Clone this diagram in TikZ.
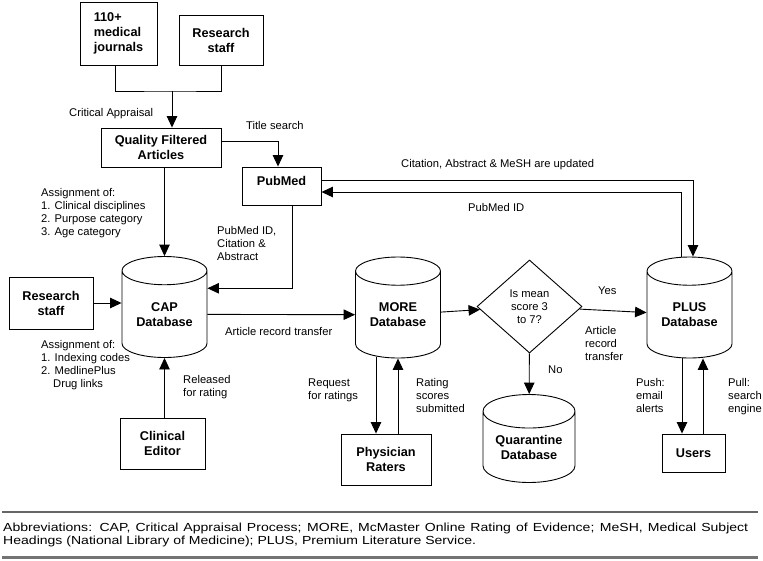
\documentclass[tikz,border=0pt]{standalone}
\usepackage{fontspec}
\setmainfont{Liberation Sans}
\newfontfamily\footfont[FakeStretch=1.2]{Liberation Sans}
\usetikzlibrary{arrows.meta,shapes.geometric}
\tikzset{
    box/.style={rectangle,draw,line width=0.9pt,align=center,inner sep=0pt,font=\fontsize{12.7}{15}\selectfont\bfseries},
    db/.style={cylinder,shape border rotate=90,draw,line width=0.9pt,aspect=0.5,minimum width=85pt,minimum height=101pt,inner sep=0pt,anchor=shape center,align=center,font=\fontsize{12.7}{15}\selectfont\bfseries},
    decision/.style={diamond,draw,line width=0.9pt,minimum width=105pt,minimum height=93pt,inner sep=0pt,align=center,font=\fontsize{11.2}{13.3}\selectfont},
    note/.style={anchor=base west,inner sep=0pt,align=left,font=\fontsize{11.2}{13}\selectfont},
    pre/.style={-{Triangle[length=11.5pt,width=10.5pt]},line width=0.9pt},
    post/.style={{Triangle[length=11.5pt,width=10.5pt]}-,line width=0.9pt}
}

\begin{document}
\begin{tikzpicture}[x=1pt,y=-1pt]
\useasboundingbox (0,0) rectangle (763,560);

% sources and filtering
\node[box,align=left,minimum width=77pt,minimum height=63pt] (journals)   at (118.5,33.5) {110+\\medical\\journals};
\node[box,minimum width=84pt,minimum height=50pt]            (staff top)  at (221,40)     {Research\\staff};
\node[box,minimum width=120pt,minimum height=39pt]           (filtered)   at (161,147.5)  {Quality Filtered\\Articles};
\node[box,minimum width=79pt,text height=18pt,text depth=20pt] (pubmed)   at (281.5,186)  {PubMed};

% databases
\node[db]                                        (cap)        at (164.5,307)   {CAP\\Database};
\node[db]                                        (more)       at (398,307.5)   {MORE\\Database}
    edge[post] (cap);
\node[decision]                                  (check)      at (529.5,306.5) {Is mean\\score 3\\to 7?}
    edge[post] (more);
\node[db]                                        (plus)       at (689.5,307.5) {PLUS\\Database}
    edge[post] (check);
\node[db,minimum width=92pt,minimum height=88pt] (quarantine) at (529,438.5)   {Quarantine\\Database}
    edge[post] (check);

% people
\node[box,minimum width=84pt,minimum height=52pt] (staff left) at (51,303)     {Research\\staff};
\node[box,minimum width=85pt,minimum height=51pt] (editor)     at (162.5,443.5) {Clinical\\Editor};
\node[box,minimum width=90pt,minimum height=51pt] (raters)     at (386,459.5)   {Physician\\Raters};
\node[box,minimum width=63pt,minimum height=38pt] (users)      at (693.5,453)   {Users};

% connectors
\coordinate (join) at (172,91);
\draw[line width=0.9pt] ([xshift=-3.5pt]journals.south) |- (join) -| (staff top.south);
\draw[pre] (join) -- (join |- filtered.north);
\draw[pre] ([yshift=6pt]filtered.east) -| ([xshift=-3.5pt]pubmed.north);
\draw[pre] (cap.north |- filtered.south) -- (cap.north);
\draw[pre] ([xshift=10.5pt]pubmed.south) |- ([yshift=26pt]cap.east);
\draw[pre] ([yshift=6pt]pubmed.east) -| ([xshift=3.5pt]plus.north);
\draw[pre] ([xshift=-8.5pt]plus.north) |- ([yshift=-6pt]pubmed.east);
\draw[pre] (staff left) -- (staff left -| cap.west);
\draw[pre] (cap.south |- editor.north) -- (cap.south);
\draw[pre] ([xshift=-22pt,yshift=1.5pt]more.south) -- ([xshift=-22pt]more.south |- raters.north);
\draw[pre] (more.south |- raters.north) -- (more.south);
\draw[pre] ([xshift=-7.5pt,yshift=0.5pt]plus.south) -- ([xshift=-7.5pt]plus.south |- users.north);
\draw[pre] ([xshift=9.5pt]users.north) -- ([xshift=9.5pt]users.north |- plus.south);

% labels (placed at the baseline of their last line)
\node[note] (appraisal)      at (69,116)  {Critical Appraisal};
\node[note] (title search)   at (246,129) {Title search};
\node[note] (assign top)     at (41,235)  {Assignment of:\\1. Clinical disciplines\\2. Purpose category\\3. Age category};
\node[note] (pm cite)        at (217,260) {PubMed ID,\\Citation \&\\Abstract};
\node[note] (updated)        at (401,167) {Citation, Abstract \& MeSH are updated};
\node[note] (pm id)          at (468,211) {PubMed ID};
\node[note] (transfer left)  at (225,335) {Article record transfer};
\node[note] (assign low)     at (41,387)  {Assignment of:\\1. Indexing codes\\2. MedlinePlus\\\hspace*{12pt}Drug links};
\node[note] (released)       at (183,396) {Released\\for rating};
\node[note] (request)        at (308,399) {Request\\for ratings};
\node[note] (submitted)      at (416,412) {Rating\\scores\\submitted};
\node[note] (yes)            at (598,294) {Yes};
\node[note] (transfer right) at (585,360) {Article\\record\\transfer};
\node[note] (no)             at (548,373) {No};
\node[note] (push)           at (636,412) {Push:\\email\\alerts};
\node[note] (pull)           at (728,412) {Pull:\\search\\engine};

% footnote
\draw[black!60,line width=1.2pt] (2,512) -- (758,512);
\draw[black!55,line width=2.4pt] (2,557.5) -- (758,557.5);
\node[anchor=base west,inner sep=0pt,align=left,font=\footfont\fontsize{11.7}{12.6}\selectfont] (abbrev) at (3,544.3)
    {\makebox[745pt][s]{Abbreviations: CAP, Critical Appraisal Process; MORE, McMaster Online Rating of Evidence; MeSH, Medical Subject}\\Headings (National Library of Medicine); PLUS, Premium Literature Service.};

\end{tikzpicture}
\end{document}
